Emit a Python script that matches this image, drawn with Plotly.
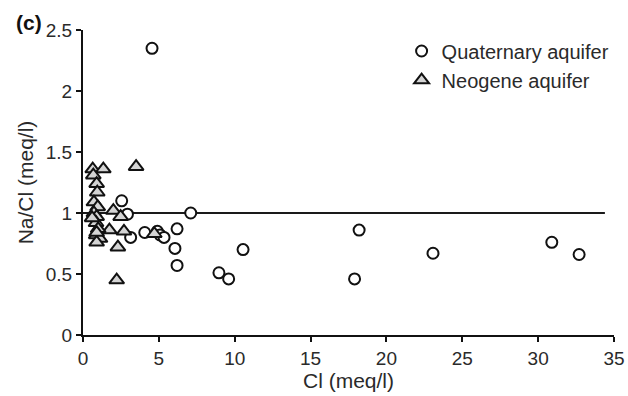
import plotly.graph_objects as go

# Quaternary aquifer (circles)
quat_cl = [4.55, 2.55, 2.93, 3.14, 4.07, 4.9, 5.08, 5.34, 6.2, 6.06, 6.2, 7.1,
           8.96, 9.6, 10.55, 17.9, 18.2, 23.07, 30.9, 32.7]
quat_ratio = [2.35, 1.10, 0.99, 0.80, 0.84, 0.85, 0.82, 0.80, 0.87, 0.71, 0.57, 1.0,
              0.51, 0.46, 0.70, 0.46, 0.86, 0.67, 0.76, 0.66]

# Neogene aquifer (triangles)
neo_cl = [0.64, 1.34, 3.5, 0.68, 0.9, 0.94, 0.72, 0.97, 0.72, 0.9, 2.0, 2.48,
          0.86, 1.74, 2.7, 0.87, 1.12, 0.9, 2.3, 4.7, 2.22, 1.0, 0.6, 0.9]
neo_ratio = [1.36, 1.36, 1.38, 1.31, 1.24, 1.17, 1.09, 1.05, 1.0, 0.97, 1.02, 0.97,
             0.92, 0.86, 0.85, 0.82, 0.79, 0.76, 0.72, 0.83, 0.45, 0.87, 0.96, 0.84]

# reference line Na/Cl = 1
ref_x = [0, 34.4]
ref_y = [1, 1]

x_ticks = [0, 5, 10, 15, 20, 25, 30, 35]
y_ticks = [0, 0.5, 1, 1.5, 2, 2.5]
y_labels = ["0", "0.5", "1", "1.5", "2", "2.5"]

FONT = "Liberation Sans, Arial, sans-serif"
TXT = "#2a2a2a"

fig = go.Figure()
fig.add_trace(go.Scatter(x=ref_x, y=ref_y, mode="lines",
                         line=dict(color="#1a1a1a", width=2), showlegend=False,
                         hoverinfo="skip"))
fig.add_trace(go.Scatter(x=quat_cl, y=quat_ratio, mode="markers", name="Quaternary aquifer",
                         marker=dict(symbol="circle", size=11, color="white",
                                     line=dict(color="#111111", width=2))))
fig.add_trace(go.Scatter(x=neo_cl, y=neo_ratio, mode="markers", name="Neogene aquifer",
                         marker=dict(symbol="triangle-up", size=13, color="#d4d4d4",
                                     line=dict(color="#111111", width=2))))

fig.update_layout(
    width=628, height=396,
    margin=dict(l=83, r=14, t=30, b=61, autoexpand=False),
    paper_bgcolor="white", plot_bgcolor="white",
    font=dict(family=FONT, size=19, color=TXT),
    showlegend=True,
    legend=dict(x=0.6, y=0.995, xanchor="left", yanchor="top",
                bgcolor="rgba(0,0,0,0)", font=dict(size=20, family=FONT, color=TXT),
                itemwidth=30, tracegroupgap=0),
    xaxis=dict(range=[0, 35], tickvals=x_ticks, showgrid=False, zeroline=False,
               showline=True, linecolor="#111111", linewidth=2,
               ticks="outside", ticklen=5, tickwidth=1.5, tickcolor="#111111",
               tickfont=dict(size=19),
               title=dict(text="Cl (meq/l)", font=dict(size=21), standoff=2)),
    yaxis=dict(range=[0, 2.5], tickvals=y_ticks, ticktext=y_labels, showgrid=False,
               zeroline=False, showline=True, linecolor="#111111", linewidth=2,
               ticks="outside", ticklen=5, tickwidth=1.5, tickcolor="#111111",
               tickfont=dict(size=19), ticklabelstandoff=0,
               title=dict(text="Na/Cl (meq/l)", font=dict(size=21), standoff=6)),
    annotations=[dict(text="<b>(c)</b>", xref="paper", yref="paper", x=-0.13, y=1.07,
                      xanchor="left", yanchor="top", showarrow=False,
                      font=dict(size=21, family=FONT, color="#111111"))],
)

# remove the default 8px page margin so the figure fills the 628x396 window exactly
fig.write_html("out.html",
               config={"displayModeBar": False},
               post_script="document.body.style.margin='0';document.body.style.overflow='hidden';")
